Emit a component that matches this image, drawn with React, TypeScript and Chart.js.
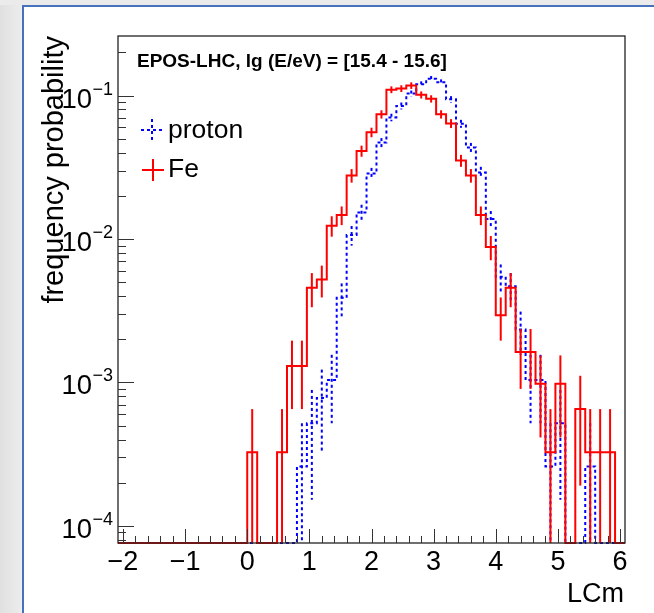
import { useEffect, useRef } from 'react';
import { Chart, registerables } from 'chart.js';

Chart.register(...registerables);

// Histogram binning (LCm axis)
const BIN_LOW = -2.08;
const BIN_WIDTH = 0.16;
const N_BINS = 51;
const X_MIN = -2.08;
const X_MAX = 6.08;
const Y_MIN = 7.6e-5;
const Y_MAX = 0.26;

// Event counts per bin, bin k covers [BIN_LOW + k*BIN_WIDTH, BIN_LOW + (k+1)*BIN_WIDTH)
const feCounts = [
  0, 0, 0, 0, 0, 0, 0, 0, 0, 0, 0, 0, 0,
  1, 0, 0, 1, 4, 4, 14, 16, 38, 45, 85, 126, 170, 227, 337, 343, 360, 310,
  291, 227, 196, 108, 85, 45, 27, 9, 14, 5, 5, 3, 1, 3, 0, 2, 1, 1, 1, 0,
];
const protonCounts = [
  0, 0, 0, 0, 0, 0, 0, 0, 0, 0, 0, 0, 0,
  0, 0, 0, 0, 0, 1, 2, 3, 4, 15, 41, 59, 110, 181, 271, 326, 397, 462,
  504, 477, 362, 245, 167, 112, 53, 21, 18, 9, 4, 4, 1, 2, 0, 0, 1, 0, 0, 0,
];
const FE_TOTAL = 3067;
const PROTON_TOTAL = 3850;

const xTickValues = [-2, -1, 0, 1, 2, 3, 4, 5, 6];
const xTickLabels = ['\u22122', '\u22121', '0', '1', '2', '3', '4', '5', '6'];
const yTickExponents = [-1, -2, -3, -4];

const TITLE = 'EPOS-LHC, lg (E/eV) = [15.4 - 15.6]';
const X_TITLE = 'LCm';
const Y_TITLE = 'frequency probability';
const seriesNames = ['proton', 'Fe'];

const FONT = '"Liberation Sans", Arial, Helvetica, sans-serif';
const RED = '#ff0000';
const BLUE = '#0000ff';

function stepPoints(counts: number[], total: number) {
  const pts: { x: number; y: number }[] = [];
  for (let k = 0; k < N_BINS; k++) {
    const v = counts[k] / total;
    pts.push({ x: BIN_LOW + k * BIN_WIDTH, y: v > 0 ? v : Y_MIN });
  }
  const last = counts[N_BINS - 1] / total;
  pts.push({ x: BIN_LOW + N_BINS * BIN_WIDTH, y: last > 0 ? last : Y_MIN });
  return pts;
}

const App = () => {
  const ref = useRef<HTMLCanvasElement>(null);

  useEffect(() => {
    document.body.style.margin = '0';
    const canvas = ref.current!;
    const histInfo = [
      { counts: feCounts, total: FE_TOTAL, color: RED, dash: [] as number[] },
      { counts: protonCounts, total: PROTON_TOTAL, color: BLUE, dash: [3, 3] },
    ];

    const rootPlugin = {
      id: 'rootStyle',
      beforeDraw(chart: any) {
        const ctx = chart.ctx;
        ctx.save();
        ctx.fillStyle = '#ebebeb';
        ctx.fillRect(0, 0, 654, 613);
        const g = ctx.createLinearGradient(0, 0, 22, 0);
        g.addColorStop(0, '#e0e0e0');
        g.addColorStop(1, '#ededed');
        ctx.fillStyle = g;
        ctx.fillRect(0, 5, 22, 608);
        ctx.fillStyle = '#ffffff';
        ctx.fillRect(22, 5, 632, 608);
        ctx.fillStyle = '#4672bd';
        ctx.fillRect(22, 5, 2, 608);
        ctx.fillRect(22, 5, 632, 2);
        ctx.restore();
      },
      afterDatasetDraw(chart: any, args: any) {
        const info = histInfo[args.index];
        if (!info) return;
        const ctx = chart.ctx;
        const xs = chart.scales.x;
        const ys = chart.scales.y;
        const a = chart.chartArea;
        ctx.save();
        ctx.beginPath();
        ctx.rect(a.left, a.top - 2, a.right - a.left, a.bottom - a.top + 4);
        ctx.clip();
        ctx.strokeStyle = info.color;
        ctx.lineWidth = 2;
        ctx.setLineDash(info.dash);
        for (let k = 0; k < N_BINS; k++) {
          const c = info.counts[k];
          if (c <= 0) continue;
          const v = c / info.total;
          const e = Math.sqrt(c) / info.total;
          const cx = xs.getPixelForValue(BIN_LOW + (k + 0.5) * BIN_WIDTH);
          const top = ys.getPixelForValue(v + e);
          const lo = v - e;
          const bot = lo > Y_MIN ? ys.getPixelForValue(lo) : a.bottom;
          ctx.beginPath();
          ctx.moveTo(cx, top);
          ctx.lineTo(cx, bot);
          ctx.stroke();
        }
        ctx.restore();
      },
      afterDraw(chart: any) {
        const ctx = chart.ctx;
        const xs = chart.scales.x;
        const ys = chart.scales.y;
        const a = chart.chartArea;
        ctx.save();
        // frame
        ctx.strokeStyle = '#222';
        ctx.lineWidth = 1.3;
        ctx.strokeRect(a.left, a.top, a.right - a.left, a.bottom - a.top);
        // x ticks
        ctx.lineWidth = 1;
        ctx.strokeStyle = '#333';
        for (let j = 0; j <= 40; j++) {
          const v = -2 + j * 0.2;
          const px = Math.round(xs.getPixelForValue(v)) + 0.5;
          const len = j % 5 === 0 ? 14 : 7;
          ctx.beginPath();
          ctx.moveTo(px, a.bottom);
          ctx.lineTo(px, a.bottom - len);
          ctx.stroke();
        }
        // y ticks
        for (let d = -5; d <= 0; d++) {
          for (let m = 1; m <= 9; m++) {
            const v = m * Math.pow(10, d);
            if (v < Y_MIN || v > Y_MAX) continue;
            const py = Math.round(ys.getPixelForValue(v)) + 0.5;
            const len = m === 1 ? 16 : 8;
            ctx.beginPath();
            ctx.moveTo(a.left, py);
            ctx.lineTo(a.left + len, py);
            ctx.stroke();
          }
        }
        ctx.fillStyle = '#000';
        // x labels
        ctx.font = `27px ${FONT}`;
        ctx.textAlign = 'center';
        ctx.textBaseline = 'alphabetic';
        xTickValues.forEach((v, i) => {
          ctx.fillText(xTickLabels[i], xs.getPixelForValue(v), 570);
        });
        // y labels 10^{-n}
        yTickExponents.forEach((ex) => {
          const py = ys.getPixelForValue(Math.pow(10, ex));
          const sup = '\u2212' + String(-ex);
          ctx.font = `18px ${FONT}`;
          const sw = ctx.measureText(sup).width;
          ctx.textAlign = 'right';
          ctx.fillText(sup, 113, py - 1);
          ctx.font = `27.5px ${FONT}`;
          ctx.fillText('10', 113 - sw - 0.5, py + 12);
        });
        // x title
        ctx.font = `27px ${FONT}`;
        ctx.textAlign = 'right';
        ctx.fillText(X_TITLE, 624, 602);
        // y title
        ctx.save();
        ctx.translate(63, a.top);
        ctx.rotate(-Math.PI / 2);
        ctx.font = `29px ${FONT}`;
        ctx.textAlign = 'right';
        ctx.fillText(Y_TITLE, 0, 0);
        ctx.restore();
        // title
        ctx.font = `bold 19px ${FONT}`;
        ctx.textAlign = 'left';
        ctx.fillText(TITLE, 137, 67);
        // legend
        ctx.lineWidth = 2;
        ctx.strokeStyle = BLUE;
        ctx.setLineDash([3, 3]);
        ctx.beginPath();
        ctx.moveTo(141, 130);
        ctx.lineTo(164, 130);
        ctx.moveTo(152, 119);
        ctx.lineTo(152, 142);
        ctx.stroke();
        ctx.setLineDash([]);
        ctx.strokeStyle = RED;
        ctx.beginPath();
        ctx.moveTo(142, 170);
        ctx.lineTo(164, 170);
        ctx.moveTo(153, 159);
        ctx.lineTo(153, 181);
        ctx.stroke();
        ctx.font = `26.5px ${FONT}`;
        ctx.textAlign = 'left';
        ctx.fillText(seriesNames[0], 168, 138);
        ctx.fillText(seriesNames[1], 168, 177);
        ctx.restore();
      },
    };

    const chart = new Chart(canvas, {
      type: 'line',
      data: {
        datasets: [
          {
            label: seriesNames[1],
            data: stepPoints(feCounts, FE_TOTAL),
            borderColor: RED,
            borderWidth: 2,
            stepped: 'before',
            pointRadius: 0,
            fill: false,
            clip: 3,
          } as any,
          {
            label: seriesNames[0],
            data: stepPoints(protonCounts, PROTON_TOTAL),
            borderColor: BLUE,
            borderWidth: 2,
            borderDash: [3, 3],
            stepped: 'before',
            pointRadius: 0,
            fill: false,
            clip: 3,
          } as any,
        ],
      },
      options: {
        responsive: false,
        animation: false,
        events: [],
        layout: { padding: { left: 118, right: 29, top: 36, bottom: 70 } },
        plugins: { legend: { display: false }, tooltip: { enabled: false }, title: { display: false } },
        scales: {
          x: { type: 'linear', min: X_MIN, max: X_MAX, bounds: 'data', display: false },
          y: { type: 'logarithmic', min: Y_MIN, max: Y_MAX, bounds: 'data', display: false },
        },
      },
      plugins: [rootPlugin],
    });
    return () => chart.destroy();
  }, []);

  return (
    <div style={{ width: 654, height: 613 }}>
      <canvas ref={ref} width={654} height={613} style={{ display: 'block' }} />
    </div>
  );
};

export default App;
